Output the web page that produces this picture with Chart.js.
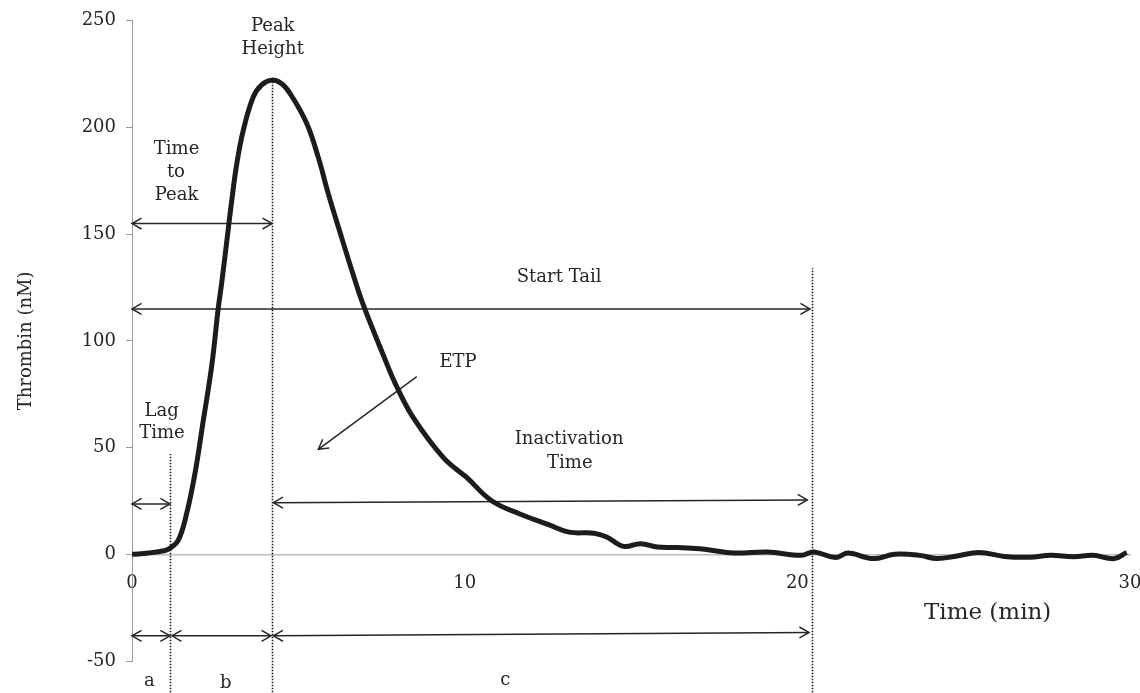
<!DOCTYPE html>
<html>
<head>
<meta charset="utf-8">
<script src="https://cdn.jsdelivr.net/npm/chart.js@4.4.1/dist/chart.umd.min.js"></script>
<style>
  html, body { margin: 0; padding: 0; background: #fff; }
  #wrap { width: 1140px; height: 693px; }
</style>
</head>
<body>
<div id="wrap"><canvas id="myChart"></canvas></div>
<script>
// thrombin generation curve
var timeMin = [0, 0.5, 1.0, 1.14, 1.39, 1.64, 1.89, 2.14, 2.4, 2.59, 2.7, 2.89, 3.0, 3.15, 3.35, 3.65, 3.9, 4.2, 4.5, 4.75, 5.25, 5.6, 5.9, 6.25, 6.65, 6.95, 7.55, 7.96, 8.46, 9.36, 10.06, 10.81, 11.66, 12.5, 13.13, 13.89, 14.27, 14.78, 15.29, 15.8, 16.4, 17.07, 18.09, 19.1, 20.12, 20.5, 21.14, 21.52, 22.28, 22.92, 23.68, 24.19, 24.8, 25.46, 26.22, 26.99, 27.62, 28.3, 28.89, 29.53, 29.9];
var thrombinNM = [0, 0.6, 1.8, 2.8, 6.5, 18.9, 37.6, 62.4, 88.8, 115, 127.6, 152, 166, 183, 199, 214.5, 220, 222.2, 220.5, 216, 202, 186, 169, 151, 131, 117, 93.5, 78.5, 63.9, 45.3, 36, 25.1, 18.9, 14, 10.4, 9.9, 8.1, 3.7, 5.0, 3.4, 3.2, 2.6, 0.6, 1.1, -0.5, 1.1, -1.5, 0.6, -2.0, 0, -0.5, -2, -0.8, 0.9, -1, -1.4, -0.5, -1.2, -0.5, -2, 0.9];

var xTicks = [0, 10, 20, 30];
var yTicks = [-50, 0, 50, 100, 150, 200, 250];

// markers in data units (min, nM)
var lagTime = 1.14;
var peakTime = 4.21;
var tailTime = 20.45;
var bottomY = -66;

var dottedLines = [
    {x: lagTime, top: 47},
    {x: peakTime, top: 222},
    {x: tailTime, top: 134}
];

var arrows = [
    {x1: 0, y1: 155, x2: peakTime, y2: 155, both: true},
    {x1: 0, y1: 115, x2: 20.38, y2: 115, both: true},
    {x1: 0, y1: 23.6, x2: lagTime, y2: 23.6, both: true},
    {x1: 4.25, y1: 24.2, x2: 20.3, y2: 25.5, both: true},
    {x1: 0, y1: -38.2, x2: lagTime, y2: -38.2, both: true},
    {x1: 1.2, y1: -38.2, x2: 4.18, y2: -38.2, both: true},
    {x1: 4.25, y1: -38.2, x2: 20.35, y2: -36.6, both: true},
    {x1: 8.56, y1: 83.3, x2: 5.6, y2: 49.2, both: false}
];

var labels = [
    {text: 'Peak', x: 4.23, y: 247.2},
    {text: 'Height', x: 4.23, y: 236.5},
    {text: 'Time', x: 1.34, y: 190},
    {text: 'to', x: 1.32, y: 178.8},
    {text: 'Peak', x: 1.34, y: 168.2},
    {text: 'Start Tail', x: 12.84, y: 129.8},
    {text: 'ETP', x: 9.8, y: 89.8},
    {text: 'Inactivation', x: 13.14, y: 53.8},
    {text: 'Time', x: 13.16, y: 42.4},
    {text: 'Lag', x: 0.89, y: 67},
    {text: 'Time', x: 0.9, y: 56.6},
    {text: 'a', x: 0.52, y: -59.7},
    {text: 'b', x: 2.82, y: -60.5},
    {text: 'c', x: 11.22, y: -59}
];

var xTitle = {text: 'Time (min)', x: 25.72, y: -27.6};

var serif = '"DejaVu Serif", "Liberation Serif", serif';
var textColor = '#262626';

function drawHead(c, fx, fy, tx, ty) {
    var ang = Math.atan2(ty - fy, tx - fx);
    var len = 11, spread = 0.52;
    c.beginPath();
    c.moveTo(tx - len * Math.cos(ang - spread), ty - len * Math.sin(ang - spread));
    c.lineTo(tx, ty);
    c.lineTo(tx - len * Math.cos(ang + spread), ty - len * Math.sin(ang + spread));
    c.stroke();
}

var markup = {
    id: 'markup',
    beforeDatasetsDraw: function(chart) {
        var c = chart.ctx;
        var xs = chart.scales.x, ys = chart.scales.y;
        c.save();
        // dotted markers
        c.strokeStyle = '#1a1a1a';
        c.lineWidth = 1.6;
        c.setLineDash([1.5, 1.5]);
        dottedLines.forEach(function(d) {
            var px = Math.round(xs.getPixelForValue(d.x)) + 0.5;
            c.beginPath();
            c.moveTo(px, ys.getPixelForValue(bottomY));
            c.lineTo(px, ys.getPixelForValue(d.top));
            c.stroke();
        });
        c.setLineDash([]);
        // arrows
        c.lineWidth = 1.5;
        c.strokeStyle = '#262626';
        arrows.forEach(function(a) {
            var x1 = xs.getPixelForValue(a.x1), y1 = ys.getPixelForValue(a.y1);
            var x2 = xs.getPixelForValue(a.x2), y2 = ys.getPixelForValue(a.y2);
            c.beginPath();
            c.moveTo(x1, y1);
            c.lineTo(x2, y2);
            c.stroke();
            drawHead(c, x1, y1, x2, y2);
            if (a.both) drawHead(c, x2, y2, x1, y1);
        });
        c.restore();
    },
    afterDraw: function(chart) {
        var c = chart.ctx;
        var xs = chart.scales.x, ys = chart.scales.y;
        c.save();
        c.fillStyle = textColor;
        c.textAlign = 'center';
        c.textBaseline = 'middle';
        c.font = '18px ' + serif;
        labels.forEach(function(l) {
            c.fillText(l.text, xs.getPixelForValue(l.x), ys.getPixelForValue(l.y));
        });
        c.font = '23px ' + serif;
        c.fillText(xTitle.text, xs.getPixelForValue(xTitle.x), ys.getPixelForValue(xTitle.y));
        c.restore();
    }
};

var ctx = document.getElementById('myChart').getContext('2d');

var data = {
    datasets: [{
        label: 'Thrombin',
        data: timeMin.map(function(t, i) { return {x: t, y: thrombinNM[i]}; }),
        borderColor: '#1c1c1c',
        borderWidth: 5,
        pointRadius: 0,
        fill: false,
        tension: 0.4
    }]
};

var myChart = new Chart(ctx, {
    type: 'line',
    data: data,
    options: {
        responsive: true,
        maintainAspectRatio: false,
        animation: false,
        layout: {padding: {left: 0, top: 17, right: 10, bottom: 32}},
        plugins: {legend: {display: false}, tooltip: {enabled: false}},
        scales: {
            x: {
                type: 'linear',
                position: {y: 0},
                min: 0,
                max: 30,
                afterBuildTicks: function(axis) {
                    axis.ticks = xTicks.map(function(v) { return {value: v}; });
                },
                afterFit: function(axis) { axis.paddingLeft = 0; axis.paddingRight = 0; },
                grid: {display: true, drawOnChartArea: false, drawTicks: false},
                border: {color: '#bdbdbd', width: 1.5},
                ticks: {
                    color: textColor,
                    font: {family: serif, size: 18},
                    padding: 18,
                    maxRotation: 0
                }
            },
            y: {
                type: 'linear',
                min: -50,
                max: 250,
                afterBuildTicks: function(axis) {
                    axis.ticks = yTicks.map(function(v) { return {value: v}; });
                },
                afterFit: function(axis) { axis.width = 132; },
                grid: {display: true, drawOnChartArea: false, drawTicks: true, tickLength: 6, color: '#9a9a9a'},
                border: {color: '#9a9a9a', width: 1},
                ticks: {
                    color: textColor,
                    font: {family: serif, size: 18},
                    padding: 10
                },
                title: {
                    display: true,
                    text: 'Thrombin (nM)',
                    color: textColor,
                    font: {family: serif, size: 18},
                    padding: {top: 16, bottom: 0}
                }
            }
        }
    },
    plugins: [markup]
});
</script>
</body>
</html>
